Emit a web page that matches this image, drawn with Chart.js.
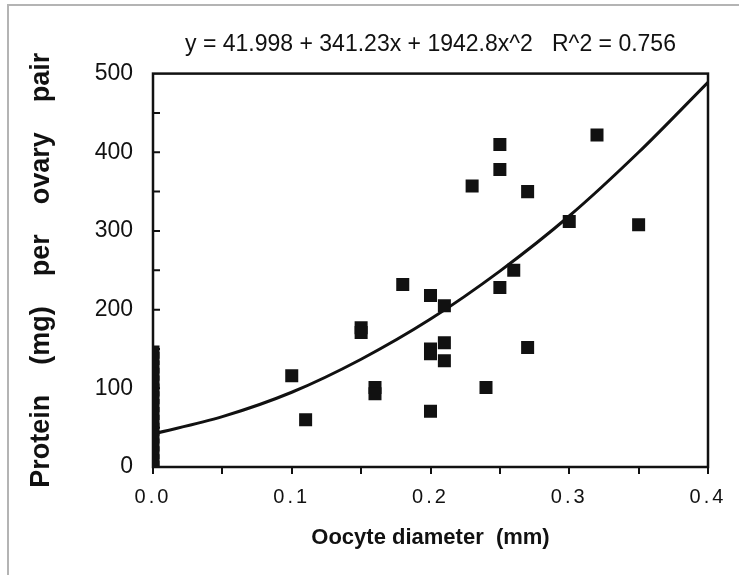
<!DOCTYPE html>
<html>
<head>
<meta charset="utf-8">
<script src="https://cdn.jsdelivr.net/npm/chart.js@4/dist/chart.umd.min.js"></script>
<style>
  body { margin: 0; background: #fff; }
  #wrap { position: relative; width: 739px; height: 575px; overflow: hidden; }
  #frame { position: absolute; left: 7px; top: 4px; width: 800px; height: 700px;
           border-left: 2px solid #b4b4b4; border-top: 2px solid #b4b4b4; }
  canvas { position: absolute; left: 0; top: 0; }
</style>
</head>
<body>
<div id="wrap">
  <div id="frame"></div>
  <canvas id="chart" width="739" height="575"></canvas>
</div>
<script>
// oocyte diameter (mm) vs protein per ovary pair (mg)
const diameters = [0, 0, 0, 0, 0, 0, 0, 0, 0, 0, 0, 0, 0, 0, 0, 0,
  0.10, 0.11, 0.15, 0.15, 0.16, 0.16, 0.18, 0.20, 0.20, 0.20, 0.20,
  0.21, 0.21, 0.21, 0.23, 0.24, 0.25, 0.25, 0.25, 0.26, 0.27, 0.27,
  0.30, 0.32, 0.35];
const proteins = [146, 138, 127, 118, 108, 98, 88, 78, 68, 58, 48, 38, 28, 18, 8, 0,
  116, 60, 177, 171, 101, 93, 232, 218, 150, 144, 71,
  205, 158, 135, 357, 101, 410, 378, 228, 250, 350, 152,
  312, 422, 308];

// fitted curve
const fitX = [0, 0.05, 0.1, 0.15, 0.2, 0.25, 0.3, 0.35, 0.4];
const fitY = [42, 64, 95, 137, 188, 249, 319, 400, 489];

const equation = "y = 41.998 + 341.23x + 1942.8x^2   R^2 = 0.756";

const frameAndTicks = {
  id: "frameAndTicks",
  afterUpdate(chart) {
    const sc = chart.scales.x;
    if (!sc._spaced) {
      const orig = sc.drawLabels;
      sc.drawLabels = function (area) {
        const c = this.ctx;
        const prev = c.letterSpacing;
        c.letterSpacing = "3px";
        orig.call(this, area);
        c.letterSpacing = prev;
      };
      sc._spaced = true;
    }
  },
  afterDraw(chart) {
    const { ctx, chartArea: a, scales } = chart;
    ctx.save();
    ctx.strokeStyle = "#111";
    ctx.lineWidth = 2;
    ctx.beginPath();
    for (let v = 50; v < 500; v += 50) {
      const y = scales.y.getPixelForValue(v);
      ctx.moveTo(a.left, y);
      ctx.lineTo(a.left + 7, y);
    }
    ctx.stroke();
    ctx.lineWidth = 2.5;
    ctx.strokeRect(a.left, a.top, a.right - a.left, a.bottom - a.top);
    ctx.restore();
  }
};

new Chart(document.getElementById("chart").getContext("2d"), {
  type: "scatter",
  data: {
    datasets: [
      {
        data: diameters.map((d, i) => ({ x: d, y: proteins[i] })),
        pointStyle: "rect",
        pointRadius: 9.2,
        backgroundColor: "#111",
        borderWidth: 0,
        clip: 0,
      },
      {
        type: "line",
        data: fitX.map((d, i) => ({ x: d, y: fitY[i] })),
        borderColor: "#111",
        borderWidth: 3,
        pointRadius: 0,
        tension: 0.4,
        cubicInterpolationMode: "monotone",
        fill: false,
        clip: 0,
      },
    ],
  },
  options: {
    responsive: false,
    animation: false,
    layout: { padding: { left: 0, top: 0, right: 31, bottom: 0 } },
    plugins: {
      legend: { display: false },
      tooltip: { enabled: false },
      title: {
        display: true,
        fullSize: false,
        text: equation,
        color: "#111",
        font: { family: "Liberation Sans", size: 23, weight: "normal" },
        padding: { top: 31, bottom: 15 },
      },
    },
    scales: {
      x: {
        type: "linear",
        min: 0,
        max: 0.4,
        afterFit: (s) => { s.height = 108; },
        grid: { display: true, drawOnChartArea: false, tickLength: 7, color: "#111", lineWidth: 2 },
        border: { display: false },
        ticks: {
          stepSize: 0.05,
          color: "#111",
          padding: 11,
          maxRotation: 0,
          autoSkip: false,
          font: { family: "Liberation Sans", size: 20 },
          callback: (v) => (Math.abs(v * 10 - Math.round(v * 10)) < 1e-6 ? v.toFixed(1) : ""),
        },
        title: {
          display: true,
          text: "Oocyte diameter  (mm)",
          color: "#111",
          font: { family: "Liberation Sans", size: 22, weight: "bold" },
          padding: { top: 0, bottom: 24 },
        },
      },
      y: {
        min: 0,
        max: 500,
        afterFit: (s) => { s.width = 153; },
        grid: { display: false },
        border: { display: false },
        ticks: {
          stepSize: 100,
          color: "#111",
          padding: 12,
          font: { family: "Liberation Sans", size: 23 },
        },
        title: {
          display: true,
          text: "Protein    (mg)    per    ovary    pair",
          color: "#111",
          font: { family: "Liberation Sans", size: 27, weight: "bold" },
          padding: { top: 25, bottom: 0 },
        },
      },
    },
  },
  plugins: [frameAndTicks],
});
</script>
</body>
</html>
